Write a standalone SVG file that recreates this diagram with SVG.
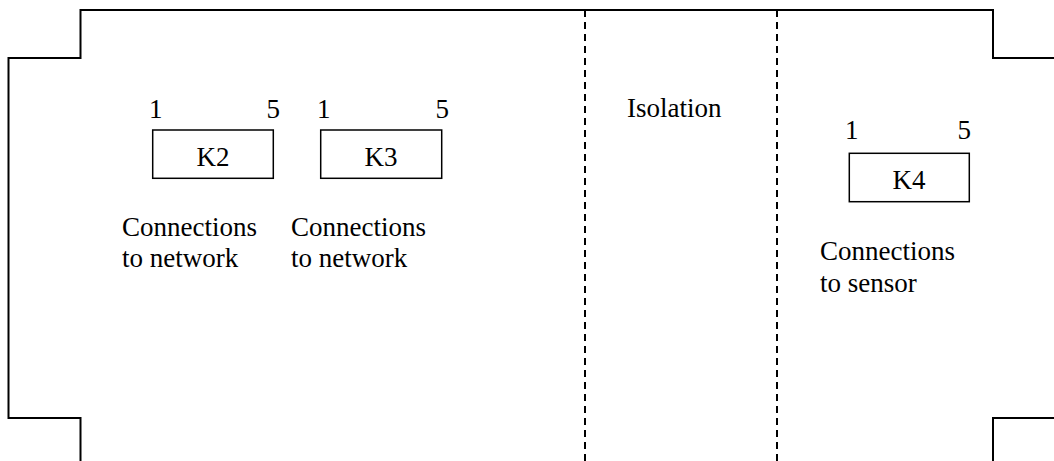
<svg xmlns="http://www.w3.org/2000/svg" width="1054" height="461" viewBox="0 0 1054 461">
<style>
.ln{fill:none;stroke:#000;stroke-width:2}
.dash{fill:none;stroke:#000;stroke-width:2;stroke-dasharray:7 5}
.box{fill:#fff;stroke:#000;stroke-width:1.5}
.t{font-family:'Liberation Serif','Times New Roman',serif;font-size:27px;fill:#000}
.c{text-anchor:middle}
.e{text-anchor:end}
</style>
<rect width="1054" height="461" fill="#fff"/>
<g id="outline">
<path class="ln" d="M80.5 461 V418 H8.5 V58 H80.5 V10 H993 V58 H1054"/>
<path class="ln" d="M1054 418 H993 V461"/>
</g>
<g id="connectors">
<line class="dash" x1="585" y1="10" x2="585" y2="461"/>
<line class="dash" x1="777" y1="10" x2="777" y2="461"/>
</g>
<g id="K2">
<rect class="box" x="152.7" y="130" width="120.6" height="48.3"/>
<text class="t c" x="213" y="166">K2</text>
<text class="t" x="149" y="118">1</text>
<text class="t e" x="280" y="118">5</text>
<text class="t" x="122" y="236">Connections</text>
<text class="t" x="122" y="267">to network</text>
</g>
<g id="K3">
<rect class="box" x="320.7" y="130" width="121" height="48.3"/>
<text class="t c" x="381" y="166">K3</text>
<text class="t" x="317" y="118">1</text>
<text class="t e" x="449" y="118">5</text>
<text class="t" x="291" y="236">Connections</text>
<text class="t" x="291" y="267">to network</text>
</g>
<g id="isolation">
<text class="t" x="627" y="117">Isolation</text>
</g>
<g id="K4">
<rect class="box" x="849.3" y="153.3" width="120" height="48.4"/>
<text class="t c" x="909" y="189">K4</text>
<text class="t" x="845" y="139">1</text>
<text class="t e" x="971" y="139">5</text>
<text class="t" x="820" y="260">Connections</text>
<text class="t" x="820" y="292">to sensor</text>
</g>
</svg>
